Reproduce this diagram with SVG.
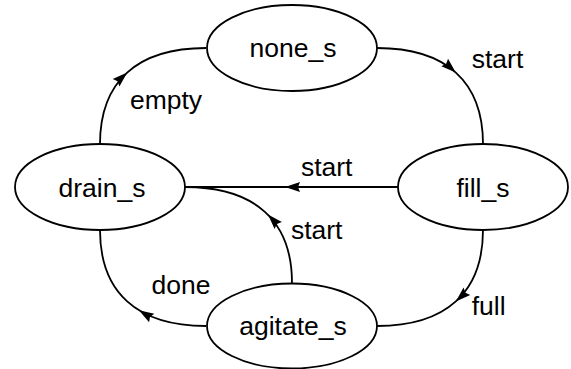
<svg xmlns="http://www.w3.org/2000/svg" width="571" height="369" viewBox="0 0 571 369">
  <style>
    .state { fill: #ffffff; stroke: #000000; stroke-width: 1.8; }
    .edge { fill: none; stroke: #000000; stroke-width: 1.8; }
    .lbl { font-family: "Liberation Sans", Arial, Helvetica, sans-serif; font-size: 26.5px; fill: #000000; text-anchor: middle; }
  </style>
  <defs>
    <!-- filled arrowhead, tip at the origin, pointing along +x -->
    <path id="ah" d="M0,0 L-15,-5 L-13,0 L-15,5 Z" fill="#000000"/>
  </defs>

  <rect width="571" height="369" fill="#ffffff"/>

  <g id="connectors">
    <!-- drain_s -> none_s : empty -->
    <path class="edge" d="M100,144 C100,81.6 137.1,48 206,48"/>
    <use href="#ah" transform="translate(127.2,72.6) rotate(-42.2)"/>
    <text class="lbl" x="166" y="109">empty</text>

    <!-- none_s -> fill_s : start -->
    <path class="edge" d="M377,48 C445.9,48 483,81.6 483,144"/>
    <use href="#ah" transform="translate(455.8,72.6) rotate(42.2)"/>
    <text class="lbl" x="497.5" y="68">start</text>

    <!-- fill_s -> drain_s : start -->
    <path class="edge" d="M398,187 L185,187"/>
    <use href="#ah" transform="translate(285,187) rotate(180)"/>
    <text class="lbl" x="326.7" y="176">start</text>

    <!-- fill_s -> agitate_s : full -->
    <path class="edge" d="M483,230 C483,292.4 445.9,326 377,326"/>
    <use href="#ah" transform="translate(455.8,301.4) rotate(137.8)"/>
    <text class="lbl" x="488.7" y="315">full</text>

    <!-- agitate_s -> drain_s : done -->
    <path class="edge" d="M206,326 C137.1,326 100,292.4 100,230"/>
    <use href="#ah" transform="translate(138.9,310.2) rotate(211.5)"/>
    <text class="lbl" x="181" y="294">done</text>

    <!-- agitate_s -> drain_s : start -->
    <path class="edge" d="M292,283 C292,220.6 254.6,187 185,187"/>
    <use href="#ah" transform="translate(268,214.5) rotate(-133)"/>
    <text class="lbl" x="316.7" y="239">start</text>
  </g>

  <g id="none_s">
    <ellipse class="state" cx="292" cy="48" rx="85" ry="43"/>
    <text class="lbl" x="293" y="57">none_s</text>
  </g>
  <g id="drain_s">
    <ellipse class="state" cx="100" cy="187" rx="85" ry="43"/>
    <text class="lbl" x="102" y="196.5">drain_s</text>
  </g>
  <g id="fill_s">
    <ellipse class="state" cx="483" cy="187" rx="85" ry="43"/>
    <text class="lbl" x="483" y="196.5">fill_s</text>
  </g>
  <g id="agitate_s">
    <ellipse class="state" cx="292" cy="326" rx="85" ry="42.5"/>
    <text class="lbl" x="293" y="335">agitate_s</text>
  </g>
</svg>
